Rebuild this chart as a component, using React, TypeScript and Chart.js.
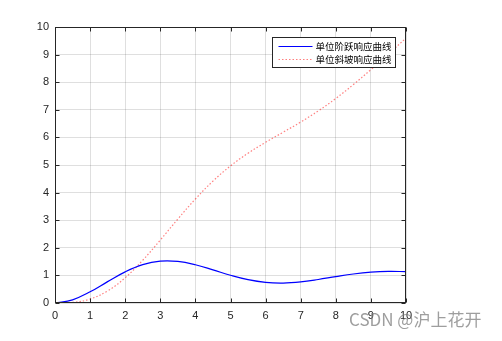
import { useEffect, useRef } from "react";
import { Chart, registerables } from "chart.js";

Chart.register(...registerables);

// time samples (s)
const timeValues = [0, 0.5, 1, 1.5, 2, 2.5, 3, 3.5, 4, 4.5, 5, 5.5, 6, 6.5, 7, 7.5, 8, 8.5, 9, 9.5, 10];
// unit step response
const stepResponse = [0, 0.1146, 0.4049, 0.7748, 1.1275, 1.388, 1.5151, 1.5049, 1.3845, 1.2006, 1.0055, 0.8446, 0.7473, 0.7237, 0.7657, 0.8521, 0.9556, 1.0503, 1.1166, 1.145, 1.1361];
// unit ramp response
const rampResponse = [0, 0.0195, 0.144, 0.4378, 0.9159, 1.5497, 2.2815, 3.0418, 3.7679, 4.4158, 4.9667, 5.4271, 5.822, 6.1868, 6.5567, 6.9599, 7.4117, 7.914, 8.4572, 9.0242, 9.5959];
const seriesLabels = ["单位阶跃响应曲线", "单位斜坡响应曲线"];
const xTickValues = [0, 1, 2, 3, 4, 5, 6, 7, 8, 9, 10];
const yTickValues = [0, 1, 2, 3, 4, 5, 6, 7, 8, 9, 10];
const watermarkText = "CSDN @沪上花开";

const AXIS_COLOR = "#262626";

const axesPlugin = {
  id: "matlabAxes",
  afterDraw(chart: any) {
    const { ctx, chartArea: a, scales } = chart;
    ctx.save();
    const L = Math.round(a.left) + 0.5;
    const R = Math.round(a.right) - 0.5;
    const T = Math.round(a.top) + 0.5;
    const B = Math.round(a.bottom) - 0.5;
    ctx.strokeStyle = AXIS_COLOR;
    ctx.lineWidth = 1;
    ctx.strokeRect(L, T, R - L, B - T);
    // inward tick marks
    const tl = 4;
    ctx.beginPath();
    xTickValues.forEach((v) => {
      const px = Math.round(scales.x.getPixelForValue(v)) + 0.5;
      ctx.moveTo(px, B);
      ctx.lineTo(px, B - tl);
      ctx.moveTo(px, T);
      ctx.lineTo(px, T + tl);
    });
    yTickValues.forEach((v) => {
      const py = Math.round(scales.y.getPixelForValue(v)) + 0.5;
      ctx.moveTo(L, py);
      ctx.lineTo(L + tl, py);
      ctx.moveTo(R, py);
      ctx.lineTo(R - tl, py);
    });
    ctx.stroke();

    // legend box
    const x0 = Math.round(a.right) - 134 + 0.5;
    const x1 = Math.round(a.right) - 11 + 0.5;
    const y0 = Math.round(a.top) + 10 + 0.5;
    const y1 = Math.round(a.top) + 40 + 0.5;
    ctx.fillStyle = "#ffffff";
    ctx.fillRect(x0, y0, x1 - x0, y1 - y0);
    ctx.strokeStyle = AXIS_COLOR;
    ctx.lineWidth = 1;
    ctx.strokeRect(x0, y0, x1 - x0, y1 - y0);
    const rows = [a.top + 18.8, a.top + 31.5];
    chart.data.datasets.forEach((ds: any, i: number) => {
      const ry = Math.round(rows[i]) + 0.5;
      ctx.save();
      ctx.strokeStyle = ds.borderColor;
      ctx.lineWidth = ds.borderWidth;
      ctx.setLineDash(ds.borderDash || []);
      ctx.beginPath();
      ctx.moveTo(x0 + 6, ry);
      ctx.lineTo(x0 + 40, ry);
      ctx.stroke();
      ctx.restore();
      ctx.fillStyle = "#000000";
      ctx.font = '9.5px "Noto Sans CJK SC"';
      ctx.textBaseline = "middle";
      ctx.textAlign = "left";
      ctx.fillText(ds.label, x0 + 43, ry);
    });

    // watermark
    ctx.font = '17px "Noto Sans CJK SC"';
    ctx.fillStyle = "rgba(125,125,125,0.75)";
    ctx.textBaseline = "alphabetic";
    ctx.textAlign = "left";
    ctx.fillText(watermarkText, 349, 326);
    ctx.restore();
  },
};

export default function App() {
  const ref = useRef<HTMLCanvasElement | null>(null);
  useEffect(() => {
    if (!ref.current) return;
    const chart = new Chart(ref.current, {
      type: "line",
      data: {
        datasets: [
          {
            label: seriesLabels[0],
            data: timeValues.map((t, i) => ({ x: t, y: stepResponse[i] })),
            borderColor: "#0000ff",
            borderWidth: 1.2,
            pointRadius: 0,
            tension: 0.4,
            fill: false,
          },
          {
            label: seriesLabels[1],
            data: timeValues.map((t, i) => ({ x: t, y: rampResponse[i] })),
            borderColor: "rgba(255,0,0,0.5)",
            borderWidth: 1.2,
            borderDash: [1.5, 2],
            pointRadius: 0,
            tension: 0.4,
            fill: false,
          },
        ],
      },
      options: {
        animation: false,
        responsive: false,
        devicePixelRatio: 1,
        layout: { padding: { left: 0, right: 96, top: 27, bottom: 0 } },
        plugins: { legend: { display: false }, tooltip: { enabled: false } },
        scales: {
          x: {
            type: "linear",
            min: 0,
            max: 10,
            afterBuildTicks: (s: any) => {
              s.ticks = xTickValues.map((v) => ({ value: v }));
            },
            afterFit: (s: any) => {
              s.height = 38;
            },
            grid: { color: "rgba(38,38,38,0.15)", drawTicks: false },
            border: { display: false },
            ticks: {
              padding: 6,
              color: AXIS_COLOR,
              font: { family: '"Liberation Sans", Arial, sans-serif', size: 11 },
              maxRotation: 0,
            },
          },
          y: {
            type: "linear",
            min: 0,
            max: 10,
            afterBuildTicks: (s: any) => {
              s.ticks = yTickValues.map((v) => ({ value: v }));
            },
            afterFit: (s: any) => {
              s.width = 55;
            },
            grid: { color: "rgba(38,38,38,0.15)", drawTicks: false },
            border: { display: false },
            ticks: {
              padding: 6,
              color: AXIS_COLOR,
              font: { family: '"Liberation Sans", Arial, sans-serif', size: 11 },
            },
          },
        },
      },
      plugins: [axesPlugin],
    });
    return () => chart.destroy();
  }, []);
  return (
    <div style={{ position: "absolute", left: 0, top: 0, width: 502, height: 341, background: "#fff" }}>
      <canvas ref={ref} width={502} height={341} style={{ display: "block" }} />
    </div>
  );
}
